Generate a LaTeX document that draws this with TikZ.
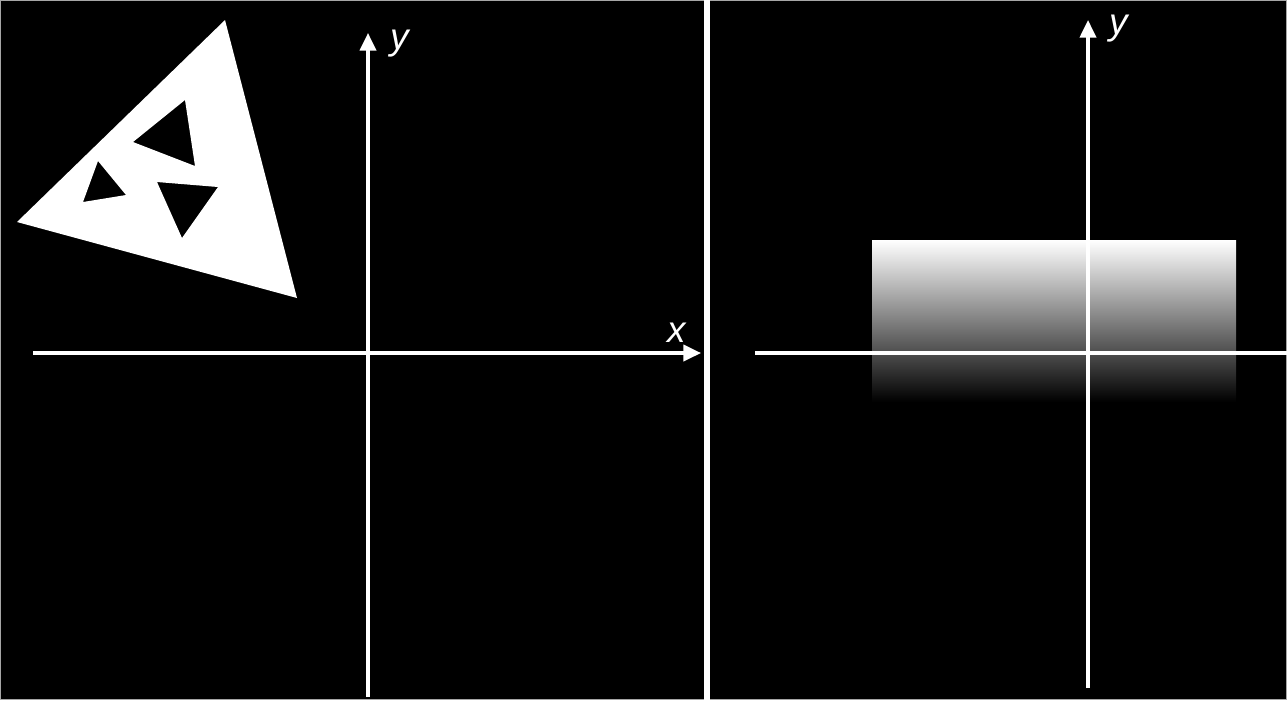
\documentclass[tikz,border=0pt]{standalone}
\usepackage{fontspec}
\newfontfamily\axisfont{Liberation Sans}
\usetikzlibrary{arrows.meta}
\begin{document}
\begin{tikzpicture}[x=0.1mm,y=-0.1mm,
  axis/.style={white, line width=0.9pt, -{Triangle[length=5pt,width=4.6pt]}},
  axislabel/.style={white, font=\axisfont\itshape\fontsize{10.5}{12}\selectfont, inner sep=0pt}]
\useasboundingbox (0,0) rectangle (1287,700);
\fill[black] (0,0) rectangle (1287,700);
\draw[gray!70, line width=0.4pt] (0.5,0.5) rectangle (1286.5,699.5);
% left: the object
\fill[white, even odd rule]
  (225,20) -- (297,298) -- (17,222) -- cycle
  (185,100) -- (195,166) -- (133,142) -- cycle
  (98,161) -- (126,195) -- (83,202) -- cycle
  (157,182) -- (218,187) -- (182,238) -- cycle;
\draw[axis] (33,353) -- (701,353);
\draw[axis] (368,697) -- (368,33);
\node[axislabel] (xl) at (677,333) {x};
\node[axislabel] (yl) at (400,44) {y};
% divider
\draw[white, line width=1.7pt] (707,0) -- (707,700);
% right: the shaded band
\fill[top color=white, bottom color=black] (872,240) rectangle (1236,402);
\draw[white, line width=0.9pt] (755,353) -- (1287,353);
\draw[axis] (1088,688) -- (1088,20);
\node[axislabel] (yr) at (1119,29) {y};
\end{tikzpicture}
\end{document}
